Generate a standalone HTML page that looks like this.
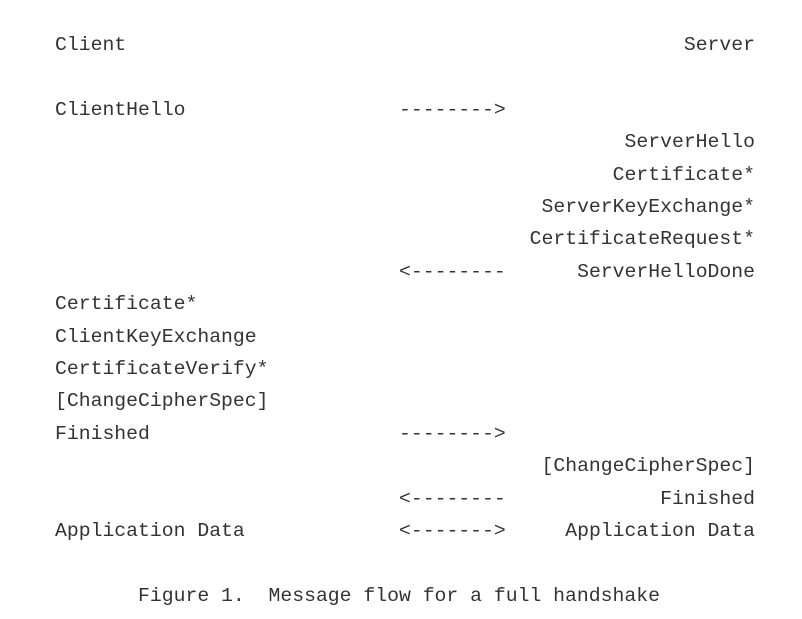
<!DOCTYPE html>
<html><head><meta charset="utf-8"><style>
html,body{margin:0;padding:0;background:#fff;width:802px;height:619px;overflow:hidden}
pre{position:absolute;top:29px;margin:0;font-family:"Liberation Mono",monospace;font-size:19.77px;line-height:32.4px;color:#333}
#l{left:55px}
#a{left:399px}
#r{right:47px;text-align:right}
</style></head><body>
<pre id="l">Client

ClientHello





Certificate*
ClientKeyExchange
CertificateVerify*
[ChangeCipherSpec]
Finished


Application Data

       Figure 1.  Message flow for a full handshake</pre>
<pre id="a"> 
 
--------&gt;
 
 
 
 
&lt;--------
 
 
 
 
--------&gt;
 
&lt;--------
&lt;-------&gt;</pre>
<pre id="r">Server
 
 
ServerHello
Certificate*
ServerKeyExchange*
CertificateRequest*
ServerHelloDone
 
 
 
 
 
[ChangeCipherSpec]
Finished
Application Data</pre>
</body></html>
